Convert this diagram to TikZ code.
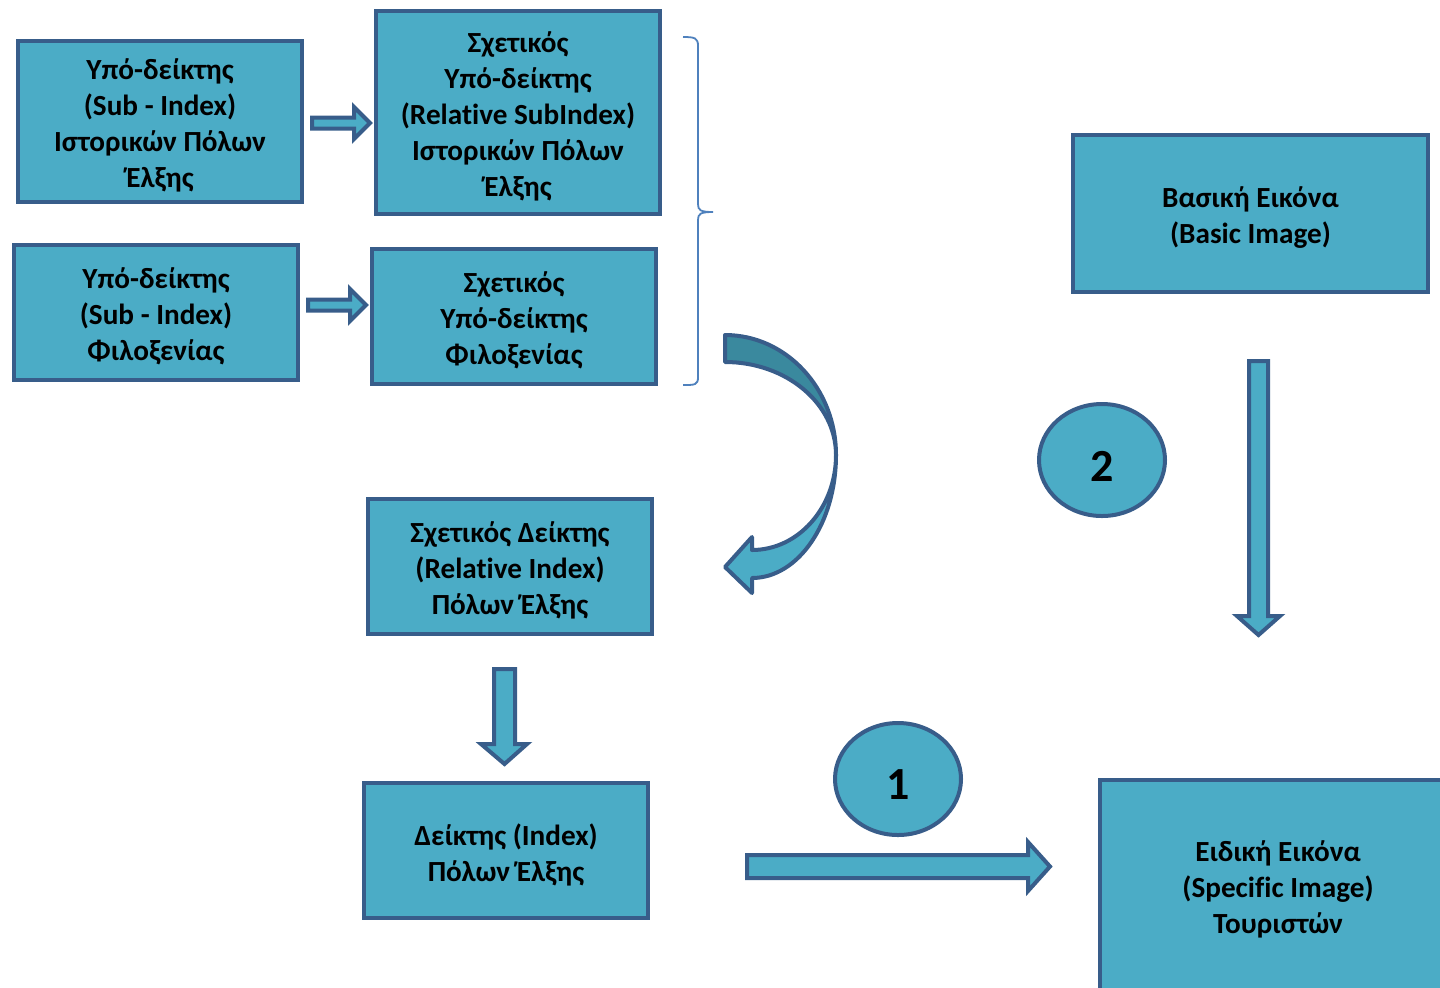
\documentclass[tikz,border=0pt]{standalone}
\usepackage{fontspec}
\newfontfamily\carl{Carlito}[Ligatures=NoCommon]
\usetikzlibrary{fit,shapes.geometric}
\definecolor{aqua}{HTML}{4BACC6}
\definecolor{aquadk}{HTML}{3A899E}
\definecolor{bdr}{HTML}{385D8A}
\definecolor{brc}{HTML}{4F81BD}
\newcommand\mybox[6]{%
  \coordinate (#1-a) at (#2,#3); \coordinate (#1-b) at (#4,#5);
  \node[box, fit=(#1-a)(#1-b)] (#1) {};
  \node[boxtext] (#1-t) at ([yshift=-2pt]#1.center) {#6};}
\begin{document}
\begin{tikzpicture}[x=0.5pt,y=-0.5pt,
  box/.style={draw=bdr, fill=aqua, line width=2.2pt, inner sep=0pt},
  boxtext/.style={inner sep=0pt, align=center,
    font=\carl\bfseries\fontsize{14.6pt}{18pt}\selectfont},
  circ/.style={ellipse, draw=bdr, fill=aqua, line width=2pt, minimum width=63pt, minimum height=56pt,
    inner sep=0pt},
  circtext/.style={inner sep=0pt, font=\carl\bfseries\fontsize{23pt}{26pt}\selectfont},
  barrow/.style={draw=bdr, fill=aqua, line width=2pt, line join=miter},
  brace/.style={draw=brc, line width=0.9pt}]
\useasboundingbox (0,0) rectangle (1440,987);

\mybox{A}{18}{41}{302}{202}{Υπό-δείκτης\\(Sub - Index)\\Ιστορικών Πόλων\\Έλξης}
\mybox{B}{376}{11}{660}{214}{Σχετικός\\Υπό-δείκτης\\(Relative SubIndex)\\Ιστορικών Πόλων\\Έλξης}
\mybox{C}{14}{245}{298}{380}{Υπό-δείκτης\\(Sub - Index)\\Φιλοξενίας}
\mybox{D}{372}{249}{656}{384}{Σχετικός\\Υπό-δείκτης\\Φιλοξενίας}
\mybox{E}{368}{499}{652}{634}{Σχετικός Δείκτης\\(Relative Index)\\Πόλων Έλξης}
\mybox{F}{364}{783}{648}{918}{Δείκτης (Index)\\Πόλων Έλξης}
\mybox{G}{1073}{135}{1428}{292}{Βασική Εικόνα\\(Basic Image)}
\mybox{H}{1100}{780}{1456}{990}{Ειδική Εικόνα\\(Specific Image)\\Τουριστών}

\node[circ] (c2) at (1102,460) {};
\node[circtext] at ([yshift=-3pt]c2.center) {2};
\node[circ] (c1) at (898,779) {};
\node[circtext] at ([yshift=-3pt]c1.center) {1};

% block arrows
\draw[barrow] (312,117.5) -- (354,117.5) -- (354,107) -- (370,123) -- (354,139) -- (354,128.5) -- (312,128.5) -- cycle;
\draw[barrow] (308,299.5) -- (350,299.5) -- (350,289) -- (366,305) -- (350,321) -- (350,310.5) -- (308,310.5) -- cycle;
\draw[barrow] (494,669) -- (515,669) -- (515,744) -- (527,744) -- (504.5,764) -- (481,744) -- (494,744) -- cycle;
\draw[barrow] (1249,361) -- (1268,361) -- (1268,616) -- (1280,616) -- (1258.5,635) -- (1237,616) -- (1249,616) -- cycle;
\draw[barrow] (747,855) -- (1028,855) -- (1028,842) -- (1050,866.5) -- (1028,891) -- (1028,878) -- (747,878) -- cycle;

% curved arrow
\draw[barrow, fill=aquadk, line join=round] (725,335) .. controls (786.3,335) and (836,388.7) .. (836,455)
  .. controls (836,403.6) and (786.3,362) .. (725,362) -- cycle;
\draw[barrow, line join=round] (836,455) .. controls (836,522.9) and (798.4,578) .. (752,578)
  -- (752,593) -- (725,567) -- (752,537) -- (752,550)
  .. controls (798.4,550) and (836,507.5) .. (836,455) -- cycle;

% brace
\draw[brace] (683,37) .. controls (695,37) and (698,38) .. (698,46) -- (698,204)
  .. controls (698,210) and (700,212) .. (713,212)
  .. controls (700,212) and (698,214) .. (698,220) -- (698,377)
  .. controls (698,385) and (695,385) .. (683,385);
\end{tikzpicture}
\end{document}
